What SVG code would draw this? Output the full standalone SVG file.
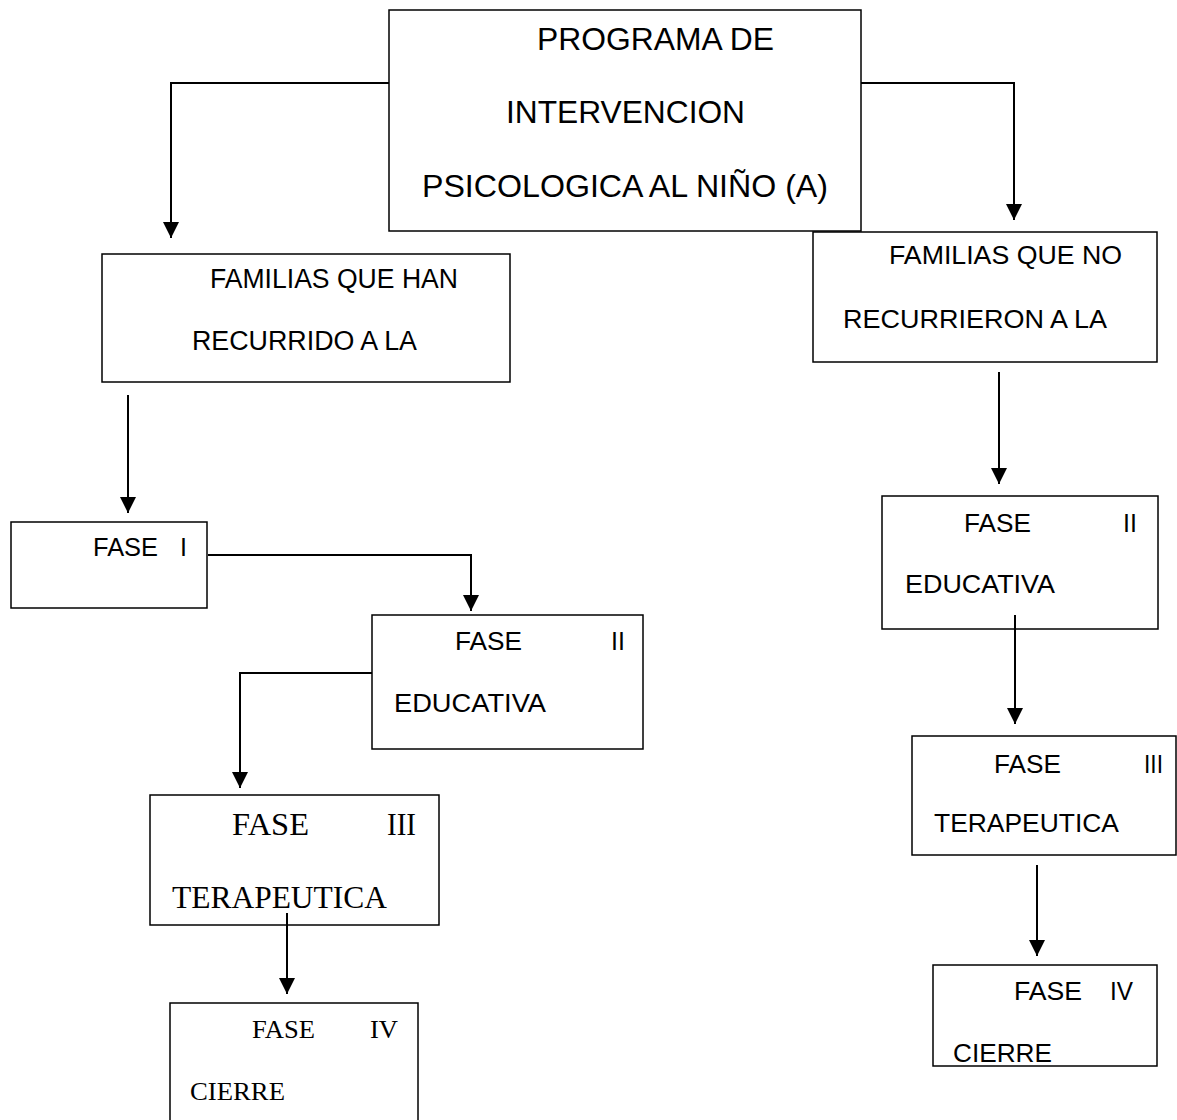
<svg xmlns="http://www.w3.org/2000/svg" width="1177" height="1120" viewBox="0 0 1177 1120">
<style>
.box{fill:#fff;stroke:#000;stroke-width:1.5}
.s{font-family:"Liberation Sans",Arial,sans-serif;fill:#000}
.r{font-family:"Liberation Serif","Times New Roman",serif;fill:#000}
.c{fill:none;stroke:#000;stroke-width:2}
</style>
<defs>
<marker id="ah" markerUnits="userSpaceOnUse" markerWidth="16" markerHeight="16" refX="16" refY="8" orient="auto">
<path d="M0,0 L16,8 L0,16 z" fill="#000"/>
</marker>
</defs>
<rect width="1177" height="1120" fill="#fff"/>
<g id="programa">
<rect class="box" x="389" y="10" width="472" height="221"/>
<text class="s" font-size="31" x="537" y="50" textLength="237" lengthAdjust="spacingAndGlyphs">PROGRAMA DE</text>
<text class="s" font-size="31" x="506" y="123" textLength="239" lengthAdjust="spacingAndGlyphs">INTERVENCION</text>
<text class="s" font-size="31" x="422" y="197" textLength="406" lengthAdjust="spacingAndGlyphs">PSICOLOGICA AL NIÑO (A)</text>
</g>
<g id="familias-han">
<rect class="box" x="102" y="254" width="408" height="128"/>
<text class="s" font-size="27" x="210" y="288" textLength="248" lengthAdjust="spacingAndGlyphs">FAMILIAS QUE HAN</text>
<text class="s" font-size="27" x="192" y="350" textLength="225" lengthAdjust="spacingAndGlyphs">RECURRIDO A LA</text>
</g>
<g id="familias-no">
<rect class="box" x="813" y="232" width="344" height="130"/>
<text class="s" font-size="26" x="889" y="264" textLength="233" lengthAdjust="spacingAndGlyphs">FAMILIAS QUE NO</text>
<text class="s" font-size="26" x="843" y="328" textLength="264" lengthAdjust="spacingAndGlyphs">RECURRIERON A LA</text>
</g>
<g id="fase1">
<rect class="box" x="11" y="522" width="196" height="86"/>
<text class="s" font-size="25" x="93" y="556" textLength="65" lengthAdjust="spacingAndGlyphs">FASE</text>
<text class="s" font-size="25" x="180" y="556">I</text>
</g>
<g id="fase2-left">
<rect class="box" x="372" y="615" width="271" height="134"/>
<text class="s" font-size="25" x="455" y="650" textLength="67" lengthAdjust="spacingAndGlyphs">FASE</text>
<text class="s" font-size="25" x="611" y="650">II</text>
<text class="s" font-size="25" x="394" y="712" textLength="152" lengthAdjust="spacingAndGlyphs">EDUCATIVA</text>
</g>
<g id="fase3-left">
<rect class="box" x="150" y="795" width="289" height="130"/>
<text class="r" font-size="31" x="232" y="835" textLength="77" lengthAdjust="spacingAndGlyphs">FASE</text>
<text class="r" font-size="31" x="387" y="835" textLength="29" lengthAdjust="spacingAndGlyphs">III</text>
<text class="r" font-size="31" x="172" y="908" textLength="215" lengthAdjust="spacingAndGlyphs">TERAPEUTICA</text>
</g>
<g id="fase4-left">
<rect class="box" x="170" y="1003" width="248" height="130"/>
<text class="r" font-size="26" x="252" y="1038" textLength="63" lengthAdjust="spacingAndGlyphs">FASE</text>
<text class="r" font-size="26" x="370" y="1038" textLength="28" lengthAdjust="spacingAndGlyphs">IV</text>
<text class="r" font-size="26" x="190" y="1100" textLength="95" lengthAdjust="spacingAndGlyphs">CIERRE</text>
</g>
<g id="fase2-right">
<rect class="box" x="882" y="496" width="276" height="133"/>
<text class="s" font-size="25" x="964" y="532" textLength="67" lengthAdjust="spacingAndGlyphs">FASE</text>
<text class="s" font-size="25" x="1123" y="532">II</text>
<text class="s" font-size="25" x="905" y="593" textLength="150" lengthAdjust="spacingAndGlyphs">EDUCATIVA</text>
</g>
<g id="fase3-right">
<rect class="box" x="912" y="736" width="264" height="119"/>
<text class="s" font-size="25" x="994" y="773" textLength="67" lengthAdjust="spacingAndGlyphs">FASE</text>
<text class="s" font-size="25" x="1144" y="773" textLength="19" lengthAdjust="spacingAndGlyphs">III</text>
<text class="s" font-size="25" x="934" y="832" textLength="185" lengthAdjust="spacingAndGlyphs">TERAPEUTICA</text>
</g>
<g id="fase4-right">
<rect class="box" x="933" y="965" width="224" height="101"/>
<text class="s" font-size="25" x="1014" y="1000" textLength="68" lengthAdjust="spacingAndGlyphs">FASE</text>
<text class="s" font-size="25" x="1110" y="1000" textLength="23" lengthAdjust="spacingAndGlyphs">IV</text>
<text class="s" font-size="25" x="953" y="1062" textLength="99" lengthAdjust="spacingAndGlyphs">CIERRE</text>
</g>
<g id="connectors">
<path class="c" d="M389,83 H171 V238" marker-end="url(#ah)"/>
<path class="c" d="M861,83 H1014 V220" marker-end="url(#ah)"/>
<path class="c" d="M128,395 V513" marker-end="url(#ah)"/>
<path class="c" d="M208,555 H471 V611" marker-end="url(#ah)"/>
<path class="c" d="M372,673 H240 V788" marker-end="url(#ah)"/>
<path class="c" d="M287,913 V994" marker-end="url(#ah)"/>
<path class="c" d="M999,372 V484" marker-end="url(#ah)"/>
<path class="c" d="M1015,615 V724" marker-end="url(#ah)"/>
<path class="c" d="M1037,865 V956" marker-end="url(#ah)"/>
</g>
</svg>
